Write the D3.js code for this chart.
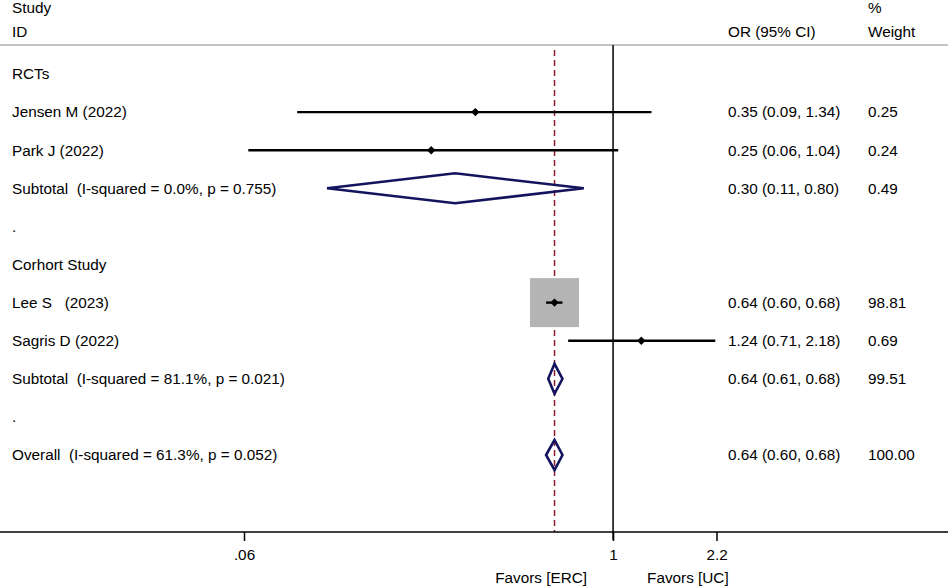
<!DOCTYPE html>
<html>
<head>
<meta charset="utf-8" />
<script src="https://cdn.jsdelivr.net/npm/d3@7"></script>
<style>
    body { margin: 0; background: #fff; }
    text { font-family: "Liberation Sans", Arial, sans-serif; font-size: 15.3px; fill: #000; white-space: pre; }
</style>
</head>
<body>
<script>
    // rows, top to bottom
    var labels = ["RCTs", "Jensen M (2022)", "Park J (2022)",
        "Subtotal  (I-squared = 0.0%, p = 0.755)", ".",
        "Corhort Study", "Lee S   (2023)", "Sagris D (2022)",
        "Subtotal  (I-squared = 81.1%, p = 0.021)", ".",
        "Overall  (I-squared = 61.3%, p = 0.052)"];
    var kinds = ["head", "study", "study", "pool", "blank",
        "head", "study", "study", "pool", "blank", "pool"];
    var or = [null, 0.35, 0.25, 0.30, null, null, 0.64, 1.24, 0.64, null, 0.64];
    var lo = [null, 0.09, 0.062, 0.113, null, null, 0.60, 0.71, 0.61, null, 0.60];
    var hi = [null, 1.34, 1.04, 0.80, null, null, 0.68, 2.18, 0.68, null, 0.68];
    var weights = [null, 0.25, 0.24, 0.49, null, null, 98.81, 0.69, 99.51, null, 100.00];
    var overall = 0.64;
    var tickVals = [0.06, 1, 2.2];
    var tickLabels = [".06", "1", "2.2"];

    var width = 948, height = 588,
        axisY = 532;

    var svg = d3.select("body").append("svg")
        .attr("width", width)
        .attr("height", height);

    var x = d3.scaleLog()
        .domain([0.06, 2.2])
        .range([244, 716.5]);

    var y = d3.scaleLinear()
        .domain([0, labels.length - 1])
        .range([74, 455]);

    var boxSize = d3.scaleSqrt()
        .domain([0, 98.81])
        .range([0, 49]);

    var fmt = d3.format(".2f");

    var rows = labels.map(function (l, i) {
        return { label: l, kind: kinds[i], or: or[i], lo: lo[i], hi: hi[i], w: weights[i], i: i };
    });

    // header
    var head = svg.append("g");
    head.append("text").attr("x", 12).attr("y", 8).attr("dy", "0.35em").text("Study");
    head.append("text").attr("x", 12).attr("y", 32).attr("dy", "0.35em").text("ID");
    head.append("text").attr("x", 728).attr("y", 32).attr("dy", "0.35em").text("OR (95% CI)");
    head.append("text").attr("x", 868).attr("y", 8).attr("dy", "0.35em").text("%");
    head.append("text").attr("x", 868).attr("y", 32).attr("dy", "0.35em").text("Weight");
    head.append("line")
        .attr("x1", 0).attr("x2", width)
        .attr("y1", 45).attr("y2", 45)
        .attr("stroke", "#b0b0b0").attr("stroke-width", 1.5);

    // null line
    svg.append("line")
        .attr("x1", x(1)).attr("x2", x(1))
        .attr("y1", 45).attr("y2", axisY + 8)
        .attr("stroke", "#000").attr("stroke-width", 1.5);

    // overall line
    svg.append("line")
        .attr("x1", x(overall)).attr("x2", x(overall))
        .attr("y1", 50).attr("y2", axisY)
        .attr("stroke", "#8b1c2c").attr("stroke-width", 1.5)
        .attr("stroke-dasharray", "6,4");

    var studies = rows.filter(function (d) { return d.kind == "study"; });
    var pools = rows.filter(function (d) { return d.kind == "pool"; });

    // weight boxes
    svg.selectAll("rect.box")
        .data(studies)
        .enter().append("rect")
        .attr("class", "box")
        .attr("x", function (d) { return x(d.or) - boxSize(d.w) / 2; })
        .attr("y", function (d) { return y(d.i) - boxSize(d.w) / 2; })
        .attr("width", function (d) { return boxSize(d.w); })
        .attr("height", function (d) { return boxSize(d.w); })
        .attr("fill", "#b4b4b4");

    // confidence intervals
    svg.selectAll("line.ci")
        .data(studies)
        .enter().append("line")
        .attr("class", "ci")
        .attr("x1", function (d) { return x(d.lo); })
        .attr("x2", function (d) { return x(d.hi); })
        .attr("y1", function (d) { return y(d.i); })
        .attr("y2", function (d) { return y(d.i); })
        .attr("stroke", "#000").attr("stroke-width", 2.4);

    // point markers
    svg.selectAll("path.pt")
        .data(studies)
        .enter().append("path")
        .attr("class", "pt")
        .attr("d", function (d) {
            var cx = x(d.or), cy = y(d.i), r = 4.2;
            return "M" + (cx - r) + "," + cy + "L" + cx + "," + (cy - r) +
                "L" + (cx + r) + "," + cy + "L" + cx + "," + (cy + r) + "Z";
        })
        .attr("fill", "#000");

    // pooled diamonds
    svg.selectAll("path.pool")
        .data(pools)
        .enter().append("path")
        .attr("class", "pool")
        .attr("d", function (d) {
            var cy = y(d.i), h = 15;
            return "M" + x(d.lo) + "," + cy + "L" + x(d.or) + "," + (cy - h) +
                "L" + x(d.hi) + "," + cy + "L" + x(d.or) + "," + (cy + h) + "Z";
        })
        .attr("fill", "none")
        .attr("stroke", "#14145e").attr("stroke-width", 2.6);

    // left labels
    svg.selectAll("text.lab")
        .data(rows)
        .enter().append("text")
        .attr("class", "lab")
        .attr("x", 12)
        .attr("y", function (d) { return y(d.i); })
        .attr("dy", "0.35em")
        .text(function (d) { return d.label; });

    var est = rows.filter(function (d) { return d.or != null; });

    svg.selectAll("text.est")
        .data(est)
        .enter().append("text")
        .attr("class", "est")
        .attr("x", 728)
        .attr("y", function (d) { return y(d.i); })
        .attr("dy", "0.35em")
        .text(function (d) { return fmt(d.or) + " (" + fmt(d.lo) + ", " + fmt(d.hi) + ")"; });

    svg.selectAll("text.wt")
        .data(est)
        .enter().append("text")
        .attr("class", "wt")
        .attr("x", 868)
        .attr("y", function (d) { return y(d.i); })
        .attr("dy", "0.35em")
        .text(function (d) { return fmt(d.w); });

    // axis
    svg.append("line")
        .attr("x1", 0).attr("x2", width)
        .attr("y1", axisY).attr("y2", axisY)
        .attr("stroke", "#000").attr("stroke-width", 1.5);

    var axis = d3.axisBottom(x)
        .tickValues(tickVals)
        .tickFormat(function (d, i) { return tickLabels[i]; })
        .tickSize(9)
        .tickPadding(8);

    var gx = svg.append("g")
        .attr("transform", "translate(0," + axisY + ")")
        .call(axis);
    gx.select(".domain").remove();
    gx.selectAll(".tick line").attr("stroke", "#000").attr("stroke-width", 1.5);
    gx.selectAll(".tick text")
        .style("font-family", "\"Liberation Sans\", Arial, sans-serif")
        .style("font-size", "15.3px")
        .attr("fill", "#000");

    svg.append("text")
        .attr("x", x(1) - 26).attr("y", 578).attr("dy", "0.35em")
        .attr("text-anchor", "end")
        .text("Favors [ERC]");
    svg.append("text")
        .attr("x", x(1) + 34).attr("y", 578).attr("dy", "0.35em")
        .text("Favors [UC]");
</script>
</body>
</html>
